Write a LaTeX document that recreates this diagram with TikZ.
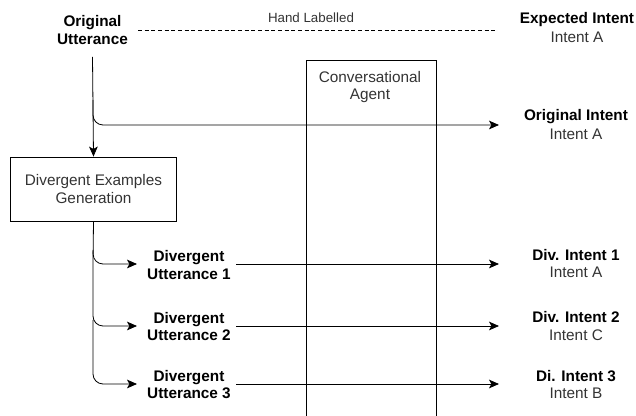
\documentclass[tikz,border=0pt]{standalone}
\usepackage{fontspec}
\setmainfont{Liberation Sans}
\usetikzlibrary{arrows.meta}
\definecolor{txtgray}{HTML}{333333}
\begin{document}
\begin{tikzpicture}[x=0.75pt,y=-0.75pt,
  bold/.style={font=\fontsize{11.5}{13.3}\selectfont\bfseries, align=center, inner sep=0pt, text=black},
  plain/.style={font=\fontsize{11.5}{13}\selectfont, align=center, inner sep=0pt, text=txtgray},
  boxnode/.style={draw, line width=0.6pt, font=\fontsize{11.5}{13.3}\selectfont, align=center, text=txtgray},
  conn/.style={line width=0.6pt, rounded corners=7.5pt},
  arr/.style={conn, -{Stealth[length=7.5pt,width=6.5pt,inset=1.8pt]}}]
\useasboundingbox (0,0) rectangle (636,416);

% top header
\node[bold] (ou) at (92.5,30) {Original\\Utterance};
\node[font=\fontsize{10}{12}\selectfont, text=txtgray, inner sep=0pt] (hl) at (311,18) {Hand Labelled};
\coordinate (dl) at (138,30);
\coordinate (dr) at (497,30);
\draw[dashed, line width=0.5pt, dash pattern=on 3pt off 2pt] (dl) -- (dr);
\node[bold] (ei) at (577,20) {Expected Intent};
\node[plain] (eia) at (577,37) {Intent A};

% conversational agent
\draw[line width=0.6pt] (306,417) -- (306,60) -- (436,60) -- (436,417);
\node[plain] (ca) at (370,87) {Conversational\\Agent};

% original intent
\node[bold] (oi) at (576,117) {Original Intent};
\node[plain] (oia) at (576,134) {Intent A};

% divergent examples generation
\node[boxnode, minimum width=125pt, minimum height=48pt] (deg) at (93.5,189) {Divergent Examples\\Generation};

\draw[arr] (ou.south |- 0,57) -- (deg.north);
\coordinate (oe) at (499,125);
\draw[arr] (93,100) -- (93,125) -- (oe);

% divergent utterances
\node[bold] (du1) at (189,265) {Divergent\\Utterance 1};
\node[bold] (du2) at (189,326.5) {Divergent\\Utterance 2};
\node[bold] (du3) at (189,384.5) {Divergent\\Utterance 3};

\coordinate (b1) at (137,264);
\coordinate (b2) at (137,326);
\coordinate (b3) at (137,384);
\draw[arr] (deg.south) -- (93,264) -- (b1);
\draw[arr] (93,250) -- (93,326) -- (b2);
\draw[arr] (93,320) -- (93,384) -- (b3);

% divergent intents
\node[bold] (di1) at (576,255) {Div. Intent 1};
\node[plain] (di1a) at (576,272) {Intent A};
\node[bold] (di2) at (576,317) {Div. Intent 2};
\node[plain] (di2a) at (576,335) {Intent C};
\node[bold] (di3) at (576,376) {Di. Intent 3};
\node[plain] (di3a) at (576,393) {Intent B};

\coordinate (e1) at (499,264);
\coordinate (e2) at (499,326);
\coordinate (e3) at (499,384);
\draw[arr] (du1.east |- e1) ++(5,0) -- (e1);
\draw[arr] (du2.east |- e2) ++(5,0) -- (e2);
\draw[arr] (du3.east |- e3) ++(5,0) -- (e3);
\end{tikzpicture}
\end{document}
